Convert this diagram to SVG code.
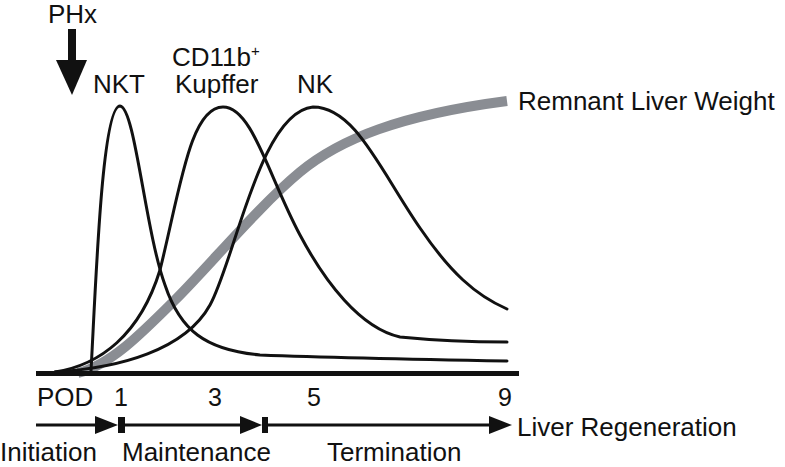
<svg xmlns="http://www.w3.org/2000/svg" width="785" height="467" viewBox="0 0 785 467">
<style>
  text { font-family: "Liberation Sans", Arial, sans-serif; font-size: 26px; fill: #111; }
  .num { font-size: 25px; text-anchor: middle; }
  .curve { fill: none; stroke: #111; stroke-width: 3; stroke-linecap: round; stroke-linejoin: round; }
  .gray { fill: none; stroke: #8a8d93; stroke-width: 10; }
  .axis { fill: none; stroke: #111; stroke-width: 3; }
  .solid { fill: #111; }
</style>
<rect width="785" height="467" fill="#ffffff"/>

<g id="weight-curve">
  <path class="gray" d="M 78 373 C 110 365, 140 335, 175 300 S 260 205, 300 172 S 400 115, 507 101"/>
</g>

<g id="connectors">
  <path id="nkt-curve" class="curve" d="M 91 371 C 96 280, 102 106, 120 106 C 135 107, 145 230, 165 285 C 180 330, 205 350, 260 355 C 340 358, 450 360, 507 361"/>
  <path id="kupffer-curve" class="curve" d="M 55 372 C 100 365, 140 335, 160 270 C 180 190, 190 107, 223 107 C 252 107, 268 175, 300 235 C 325 282, 360 328, 400 337 C 440 341, 480 342, 507 342"/>
  <path id="nk-curve" class="curve" d="M 55 372 C 120 368, 185 350, 210 305 C 235 260, 260 112, 313 107 C 355 107, 380 170, 420 228 C 450 272, 475 295, 507 309"/>
  <line x1="36" y1="373.5" x2="519" y2="373.5" stroke="#111" stroke-width="5"/>
  <g id="phx-arrow">
    <rect class="solid" x="68" y="29" width="8" height="33"/>
    <polygon class="solid" points="56,60 87,60 72,95"/>
  </g>
  <g id="phase-arrows">
    <line class="axis" x1="36" y1="425" x2="97" y2="425"/>
    <polygon class="solid" points="95,416 118,425 95,434"/>
    <rect class="solid" x="118" y="417" width="7" height="16"/>
    <line class="axis" x1="125" y1="425" x2="242" y2="425"/>
    <polygon class="solid" points="240,416 262,425 240,434"/>
    <rect class="solid" x="262" y="417" width="6" height="16"/>
    <line class="axis" x1="268" y1="425" x2="490" y2="425"/>
    <polygon class="solid" points="489,416 512,425 489,434"/>
  </g>
</g>

<g id="label-phx"><text x="48" y="23" font-size="25">PHx</text></g>
<g id="label-nkt"><text x="93" y="93">NKT</text></g>
<g id="label-kupffer">
  <text x="172" y="66">CD11b<tspan font-size="15" dy="-10">+</tspan></text>
  <text x="175" y="93">Kupffer</text>
</g>
<g id="label-nk"><text x="297" y="93">NK</text></g>
<g id="label-weight"><text x="518" y="110">Remnant Liver Weight</text></g>

<g id="axis-labels">
  <text x="37" y="406" font-size="25">POD</text>
  <text class="num" x="121" y="406">1</text>
  <text class="num" x="215" y="406">3</text>
  <text class="num" x="314" y="406">5</text>
  <text class="num" x="505" y="406">9</text>
</g>
<g id="label-regeneration"><text x="517" y="436">Liver Regeneration</text></g>
<g id="phase-labels">
  <text x="0" y="461">Initiation</text>
  <text x="122" y="461">Maintenance</text>
  <text x="327" y="461">Termination</text>
</g>
</svg>
